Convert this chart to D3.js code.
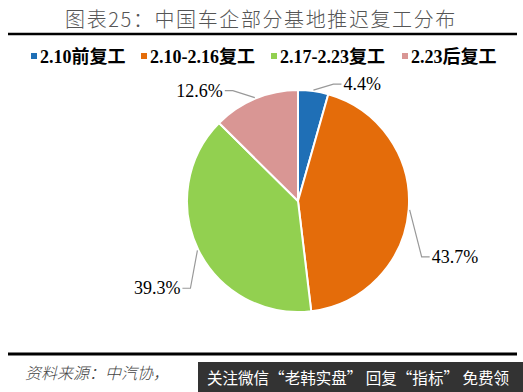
<!DOCTYPE html>
<html><head><meta charset="utf-8">
<script src="https://cdn.jsdelivr.net/npm/d3@7"></script>
<style>body{margin:0;background:#fff}</style>
</head><body><svg id="chart" width="523" height="392"></svg>
<script>
const categories = ["2.10前复工", "2.10-2.16复工", "2.17-2.23复工", "2.23后复工"];
const values = [4.4, 43.7, 39.3, 12.6];
const colors = ["#1f6fb6", "#e46c0a", "#92d050", "#d99694"];
// leader line elbow offsets from the slice edge, and label side
const elbows = [[20, -6], [12, 47], [-7, 38], [-22, -7]];
const sides = [1, 1, -1, -1];

const svg = d3.select("#chart");
const serif = "'Liberation Serif','Times New Roman',serif";
const cjk = "'Liberation Serif','Noto Sans CJK SC',serif";

// title
svg.append("text")
    .attr("x", 261).attr("y", 27)
    .attr("text-anchor", "middle")
    .style("font-family", "'Noto Sans CJK SC',sans-serif")
    .style("font-weight", 300)
    .style("font-size", "20px")
    .style("letter-spacing", "1.6px")
    .style("fill", "#555")
    .text("图表25：中国车企部分基地推迟复工分布");
svg.append("line")
    .attr("x1", 8).attr("x2", 517).attr("y1", 34).attr("y2", 34)
    .style("stroke", "#000").style("stroke-width", 2.5);

// legend
const legendX = [31, 141, 271, 402];
const legend = svg.selectAll("g.leg").data(categories).enter()
    .append("g").attr("class", "leg")
    .attr("transform", (d, i) => `translate(${legendX[i]},57)`);
legend.append("rect")
    .attr("x", 0).attr("y", -4).attr("width", 6).attr("height", 6)
    .style("fill", (d, i) => colors[i]);
legend.append("text")
    .attr("x", 9).attr("y", 6)
    .style("font-family", cjk)
    .style("font-weight", "bold")
    .style("font-size", "18px")
    .style("fill", "#000")
    .text(d => d);

// pie
const cx = 298, cy = 201, r = 111;
const pie = d3.pie().sort(null).value(d => d);
const arcs = pie(values);
const arc = d3.arc().innerRadius(0).outerRadius(r);
const g = svg.append("g").attr("transform", `translate(${cx},${cy})`);
g.selectAll("path").data(arcs).enter()
    .append("path")
    .attr("d", arc)
    .style("fill", (d, i) => colors[i])
    .style("stroke", "#fff")
    .style("stroke-width", 2);

// labels with leader lines
arcs.forEach((d, i) => {
    const a = (d.startAngle + d.endAngle) / 2;
    const x0 = Math.sin(a) * (r + 1), y0 = -Math.cos(a) * (r + 1);
    const x1 = x0 + elbows[i][0], y1 = y0 + elbows[i][1];
    const x2 = x1 + sides[i] * 8;
    g.append("polyline")
        .attr("points", `${x0},${y0} ${x1},${y1} ${x2},${y1}`)
        .style("fill", "none")
        .style("stroke", "#999")
        .style("stroke-width", 1.2);
    g.append("text")
        .attr("x", x2 + sides[i] * 2)
        .attr("y", y1 + 6)
        .attr("text-anchor", sides[i] > 0 ? "start" : "end")
        .style("font-family", serif)
        .style("font-size", "18px")
        .style("fill", "#000")
        .text(values[i].toFixed(1) + "%");
});

// footer
svg.append("line")
    .attr("x1", 8).attr("x2", 517).attr("y1", 354).attr("y2", 354)
    .style("stroke", "#000").style("stroke-width", 3);
svg.append("text")
    .attr("x", 25).attr("y", 379)
    .style("font-family", "'Noto Sans CJK SC',sans-serif")
    .style("font-style", "italic")
    .style("font-weight", 300)
    .style("font-size", "16px")
    .style("fill", "#444")
    .text("资料来源：中汽协，");
svg.append("rect")
    .attr("x", 198).attr("y", 362).attr("width", 325).attr("height", 30)
    .style("fill", "#333");
svg.append("text")
    .attr("x", 207).attr("y", 384)
    .attr("textLength", 302)
    .attr("lengthAdjust", "spacingAndGlyphs")
    .style("font-family", "'Noto Sans CJK SC',sans-serif")
    .style("font-size", "16px")
    .style("fill", "#fff")
    .text("关注微信“老韩实盘” 回复“指标” 免费领");
</script></body></html>
